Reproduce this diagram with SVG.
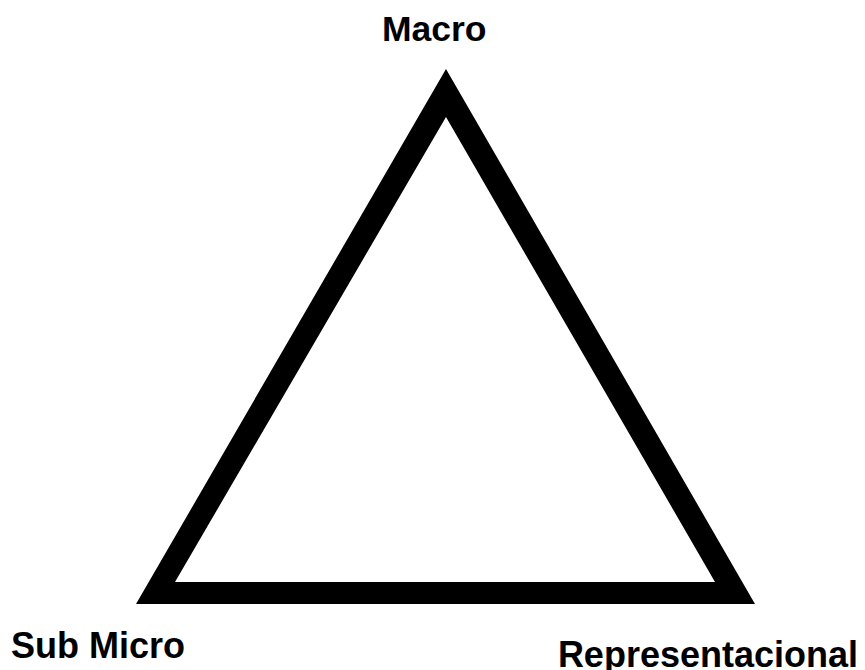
<svg xmlns="http://www.w3.org/2000/svg" width="865" height="670" viewBox="0 0 865 670">
<style>
.lbl{font-family:"Liberation Sans",Arial,sans-serif;font-weight:bold;font-size:36px;fill:#000}
</style>
<rect width="865" height="670" fill="#fff"/>
<g id="triangle">
<path d="M446,69 L755,604 L136,604 Z M446,117 L175,582 L715,582 Z" fill="#000" fill-rule="evenodd"/>
</g>
<g id="macro"><text class="lbl" x="382" y="41" style="font-size:35.5px">Macro</text></g>
<g id="submicro"><text class="lbl" x="11" y="658">Sub Micro</text></g>
<g id="representacional"><text class="lbl" x="858" y="667" text-anchor="end">Representacional</text></g>
</svg>
